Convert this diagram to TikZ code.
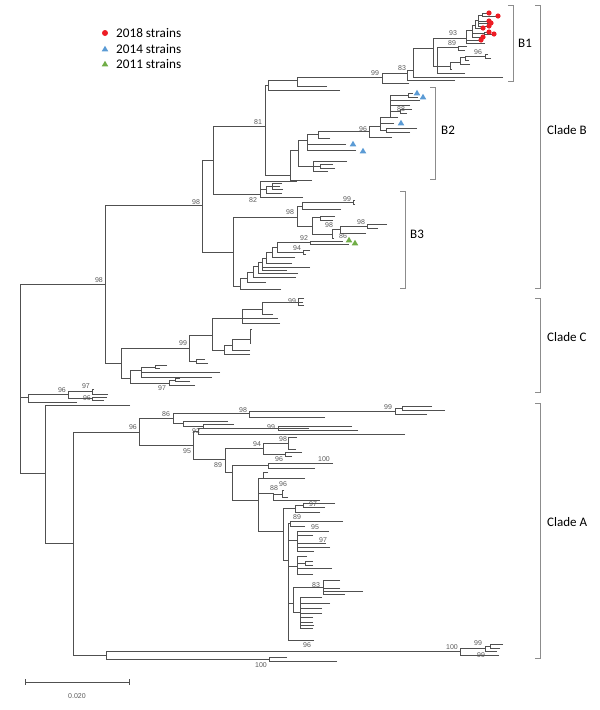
\documentclass[tikz,border=0pt]{standalone}
\usepackage{fontspec}
\setmainfont{Carlito}
\newfontfamily\bootfont{Liberation Sans}
\usetikzlibrary{positioning,calc}
\definecolor{treegray}{RGB}{80,80,80}
\definecolor{brkgray}{RGB}{140,140,140}
\definecolor{strred}{RGB}{237,28,36}
\definecolor{strblue}{RGB}{91,155,213}
\definecolor{strgreen}{RGB}{112,173,71}

\newcommand\tritip[3]{\fill[#1] (#2,#3) ++(0,-3.2) -- ++(3.3,5.6) -- ++(-6.6,0) -- cycle;}

\begin{document}
\begin{tikzpicture}[x=1pt, y=-1pt,
    branch/.style={draw=treegray, line width=0.65pt},
    boot/.style={font=\bootfont\fontsize{7}{8}\selectfont, text=black!65, inner sep=0pt},
    brk/.style={draw=brkgray, line width=0.7pt},
    cladelbl/.style={font=\fontsize{13}{15}\selectfont, anchor=west, inner sep=0pt},
    leglbl/.style={font=\fontsize{13.2}{15}\selectfont, anchor=west, inner sep=0pt}
  ]
  \useasboundingbox (0,0) rectangle (600,710);

  % Legend
  \fill[strred] (105,33) circle (3);
  \node[leglbl] (leg18) at (116,33) {2018 strains};
  \tritip{strblue}{105}{49}
  \node[leglbl] (leg14) at (116,49) {2014 strains};
  \tritip{strgreen}{105}{64}
  \node[leglbl] (leg11) at (116,64) {2011 strains};

  % Root and clade B backbone (child tip -| parent node)
  \foreach \cx/\cy/\px/\py in {105/284/20/397, 28/397/20/397, 45/473/20/397,
      202/205/105/284, 121/363/105/284, 213/160/202/205, 233/252/202/205,
      265/126/213/160, 260/194/213/160, 268/85/265/126, 290/175/265/126,
      297/80/268/85, 340/90/268/85, 382/77/297/80, 327/86/297/80}
    \draw[branch] (\cx,\cy) -| (\px,\py);

  % B1
  \foreach \cx/\cy/\px/\py in {407/73/382/77, 409/83/382/77,
      413/70/407/73, 455/80/407/73, 433/48/413/70, 503/77/413/70,
      466/38/433/48, 437/66/433/48,
      458/47/437/66, 450/66/437/66, 465/73/437/66, 467/46/458/47, 465/50/458/47,
      460/62/450/66, 452/69/450/66, 465/57/460/62, 470/64/460/62,
      485/56/465/57, 469/60/465/57, 488/54/485/56, 491/58/485/56,
      472/30/466/38, 479/40/466/38, 485/43/466/38,
      475/25/472/30, 484/33/472/30, 481/37/472/30,
      478/20/475/25, 481/28/475/25,
      482/15/478/20, 487/21/478/20, 489/23/478/20, 487/26/478/20,
      487/13/482/15, 496/16/482/15, 487/32/484/33, 492/34/484/33}
    \draw[branch] (\cx,\cy) -| (\px,\py);

  % B2 and the small 82 group
  \foreach \cx/\cy/\px/\py in {298/150/290/175, 312/180/290/175,
      307/140/298/150, 313/166/298/150, 318/134/307/140, 346/144/307/140, 356/150/307/140,
      369/131/318/134, 330/138/318/134, 380/126/369/131, 392/137/369/131,
      390/117/380/126, 394/123/380/126, 386/130/380/126, 417/128/386/130, 410/132/386/130,
      408/95/390/117, 420/100/390/117, 410/105/390/117, 400/111/390/117, 398/117/390/117,
      413/93/408/95, 418/97/408/95, 412/109/400/111, 407/113/400/111,
      347/161/313/166, 320/166/313/166, 328/171/313/166, 333/164/320/166, 335/168/320/166,
      297/181/260/194, 266/189/260/194, 303/197/260/194, 272/186/266/189, 282/193/266/189,
      282/183/272/186, 280/186/272/186, 283/189/272/186}
    \draw[branch] (\cx,\cy) -| (\px,\py);

  % B3
  \foreach \cx/\cy/\px/\py in {297/217/233/252, 240/286/233/252,
      302/206/297/217, 312/226/297/217, 353/202/302/206, 341/209/302/206,
      355/200/353/202, 355/204/353/202, 320/217/312/226, 332/234/312/226,
      335/216/320/217, 333/220/320/217, 340/229/332/234, 334/238/332/234,
      367/226/340/229, 366/233/340/229, 387/224/367/226, 378/228/367/226,
      247/278/240/286, 281/289/240/286, 253/272/247/278, 266/282/247/278,
      258/266/253/272, 296/277/253/272, 262/262/258/266, 298/273/258/266,
      266/258/262/262, 287/270/262/262, 310/267/262/262, 272/252/266/258, 292/263/266/258,
      277/247/272/252, 295/257/272/252, 310/242/277/247, 303/252/277/247,
      343/241/310/242, 349/244/310/242, 310/250/303/252, 306/254/303/252}
    \draw[branch] (\cx,\cy) -| (\px,\py);

  % Clade C and the small 96 group
  \foreach \cx/\cy/\px/\py in {189/348/121/363, 130/378/121/363,
      212/335/189/348, 196/361/189/348, 205/359/196/361, 208/363/196/361,
      242/318/212/335, 224/350/212/335, 262/309/242/318, 278/318/242/318, 280/323/242/318,
      298/302/262/309, 273/314/262/309, 304/298/298/302, 303/302/298/302, 304/305/298/302,
      232/345/224/350, 250/354/224/350, 250/339/232/345, 250/350/232/345,
      252/329/250/339, 251/343/250/339,
      141/370/130/378, 169/383/130/378, 155/367/141/370, 220/372/141/370, 212/377/141/370,
      167/365/155/367, 160/368/155/367, 175/380/169/383, 195/385/169/383,
      180/378/175/380, 190/381/175/380,
      68/394/28/397, 77/402/28/397, 92/391/68/394, 92/398/68/394,
      94/389/92/391, 108/394/92/391, 107/397/92/398, 104/400/92/398}
    \draw[branch] (\cx,\cy) -| (\px,\py);

  % Clade A and the long outgroup
  \foreach \cx/\cy/\px/\py in {130/405/45/473, 73/543/45/473,
      139/432/73/543, 106/655/73/543, 460/651/106/655, 269/659/106/655,
      485/648/460/651, 499/655/460/651, 490/646/485/648, 497/651/485/648,
      503/644/490/646, 500/648/490/646, 287/657/269/659, 337/661/269/659,
      173/418/139/432, 193/445/139/432, 249/413/173/418, 183/423/173/418,
      395/411/249/413, 325/417/249/413, 402/408/395/411, 427/414/395/411,
      432/406/402/408, 445/410/402/408, 228/421/183/423, 203/426/183/423,
      234/424/203/426, 309/428/203/426,
      198/431/193/445, 225/459/193/445, 278/428/198/431, 405/434/198/431,
      352/426/278/428, 358/430/278/428,
      263/448/225/459, 232/472/225/459, 288/443/263/448, 285/454/263/448,
      297/437/288/443, 296/449/288/443, 302/452/285/454, 292/456/285/454,
      268/465/232/472, 258/500/232/472, 333/463/268/465, 315/468/268/465,
      263/478/258/500, 273/493/258/500, 283/531/258/500,
      268/472/263/478, 305/478/263/478, 282/494/273/493, 320/500/273/493,
      284/490/282/494, 288/497/282/494,
      295/508/283/531, 288/560/283/531, 303/505/295/508, 320/512/295/508,
      335/503/303/505, 325/507/303/505}
    \draw[branch] (\cx,\cy) -| (\px,\py);
  \foreach \cx/\cy/\px/\py in {290/523/288/560, 297/540/288/560, 297/566/288/560,
      293/603/288/560, 314/640/288/560,
      343/521/290/523, 305/526/290/523,
      329/531/297/540, 313/535/297/540, 326/543/297/540, 330/547/297/540, 314/551/297/540,
      305/563/297/566, 332/568/297/566, 313/574/297/566, 307/556/297/566,
      313/561/305/563, 313/565/305/563,
      323/587/293/603, 300/612/293/603,
      340/580/323/587, 340/588/323/587, 363/591/323/587, 345/594/323/587,
      322/597/300/612, 330/603/300/612, 322/608/300/612, 322/613/300/612,
      313/617/300/612, 313/622/300/612, 314/625/300/612, 313/628/300/612}
    \draw[branch] (\cx,\cy) -| (\px,\py);

  % Strain markers
  \foreach \dx/\dy in {489/13, 498/16, 489/21, 491/23, 489/26, 483/28, 489/32, 494/34, 483/37, 481/40}
    \fill[strred] (\dx,\dy) circle (2.6);
  \foreach \tx/\ty in {417/93, 423/97, 401/123, 353/144, 363/151}
    {\tritip{strblue}{\tx}{\ty}}
  \foreach \tx/\ty in {349/240, 355/243}
    {\tritip{strgreen}{\tx}{\ty}}

  % Bootstrap values
  \foreach \bx/\by/\bt [count=\i] in {99/280/98, 196/202/98, 258/122/81, 253/200/82, 375/73/99,
      402/68/83, 453/33/93, 452/43/89, 478/52/96, 401/109/88, 363/129/96,
      290/212/98, 347/199/99, 329/225/98, 361/222/98, 343/236/86, 304/238/92, 297/248/94,
      292/301/99, 183/343/99, 162/388/97, 62/390/96, 86/386/97, 87/398/96,
      133/427/96, 166/414/86, 243/410/98, 388/407/99, 196/431/92, 271/427/99, 187/451/95,
      257/444/94, 283/439/98, 218/465/89, 279/459/96, 324/459/100, 283/484/96, 274/488/88,
      313/504/97, 297/517/89, 315/527/95, 323/540/97, 316/585/83, 307/645/96,
      452/647/100, 478/643/99, 481/655/99, 261/665/100}
    \node[boot] (bs\i) at (\bx,\by) {\bt};

  % Brackets
  \draw[brk] (508,5) -- (513,5) -- (513,81) -- (508,81);
  \draw[brk] (430,87) -- (435,87) -- (435,179) -- (430,179);
  \draw[brk] (400,191) -- (405,191) -- (405,288) -- (400,288);
  \draw[brk] (535,5) -- (540,5) -- (540,288) -- (535,288);
  \draw[brk] (535,298) -- (540,298) -- (540,392) -- (535,392);
  \draw[brk] (535,403) -- (540,403) -- (540,658) -- (535,658);
  \coordinate (b1mid) at (513,43);
  \coordinate (b2mid) at (435,130);
  \coordinate (b3mid) at (405,234);
  \coordinate (cbmid) at (540,130);
  \coordinate (ccmid) at (540,337);
  \coordinate (camid) at (540,522);
  \node[cladelbl, right=5pt of b1mid] (lblB1) {B1};
  \node[cladelbl, right=6pt of b2mid] (lblB2) {B2};
  \node[cladelbl, right=5pt of b3mid] (lblB3) {B3};
  \node[cladelbl, right=7pt of cbmid] (lblCB) {Clade B};
  \node[cladelbl, right=7pt of ccmid] (lblCC) {Clade C};
  \node[cladelbl, right=7pt of camid] (lblCA) {Clade A};

  % Scale bar
  \coordinate (sbl) at (25,682);
  \coordinate (sbr) at (129,682);
  \draw[branch] (sbl) -- (sbr);
  \draw[branch] (25,679) -- (25,685) (129,679) -- (129,685);
  \node[boot, below=11pt of $(sbl)!0.5!(sbr)$] (sblbl) {0.020};
\end{tikzpicture}
\end{document}
